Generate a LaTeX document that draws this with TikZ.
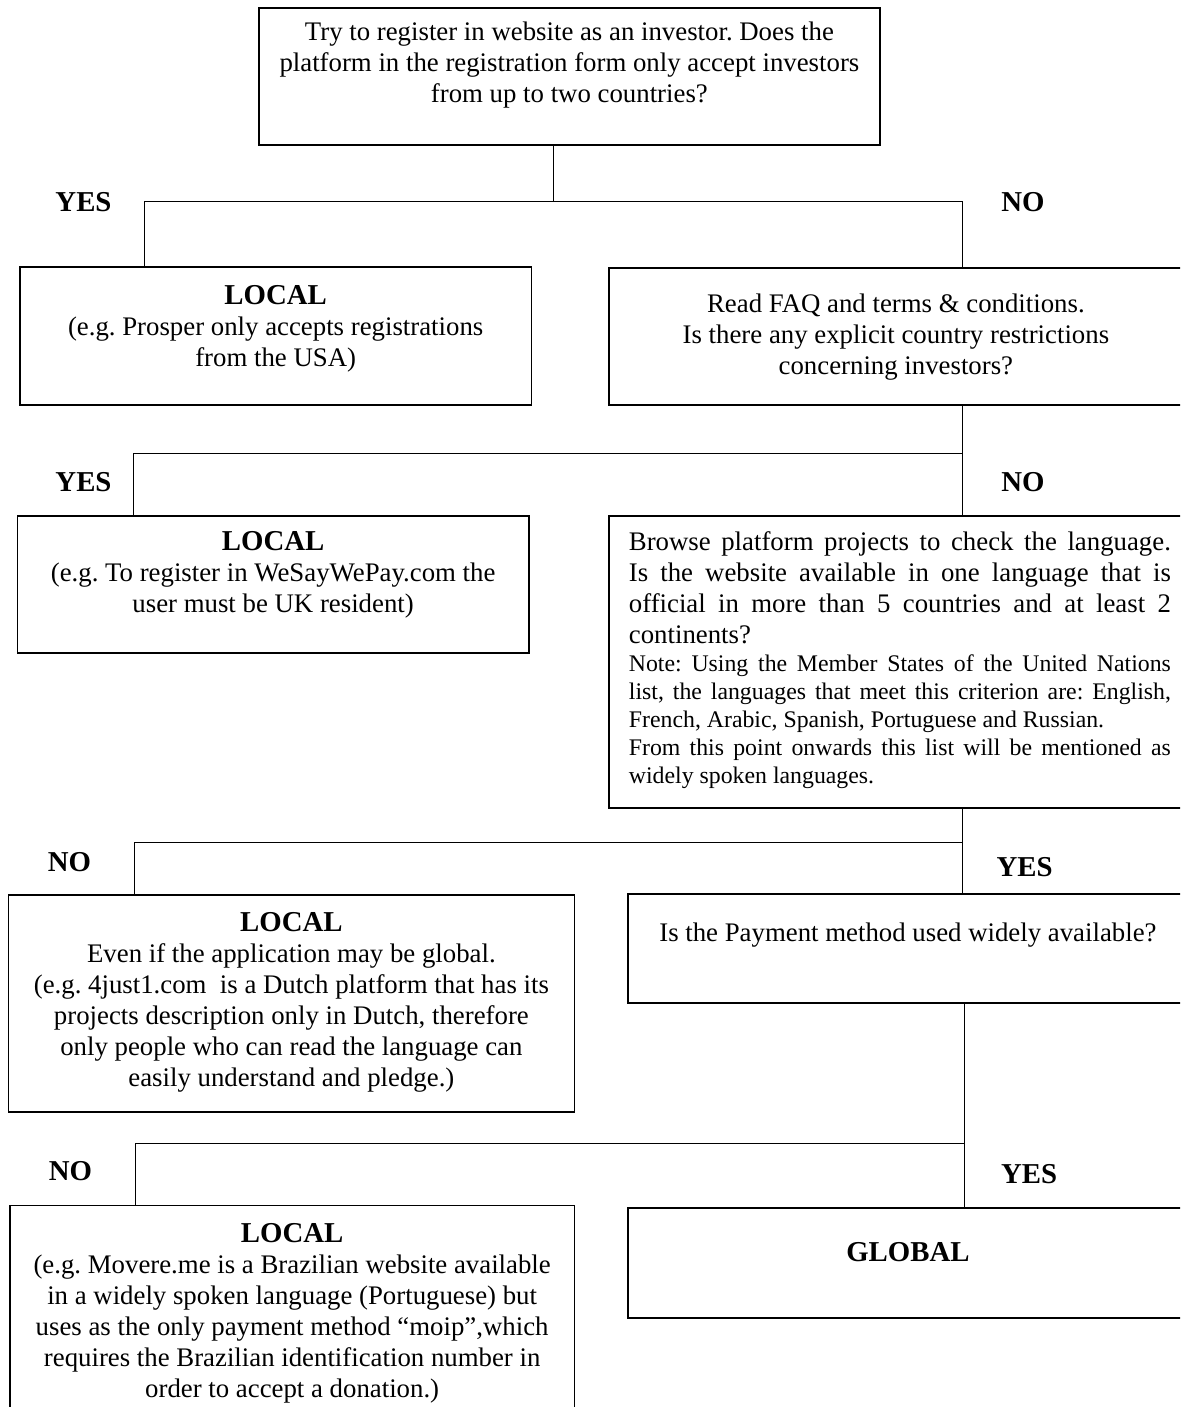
\documentclass[tikz,border=0pt]{standalone}
\usepackage{fontspec}
\setmainfont{Liberation Serif}
\usepackage{tikz}
\setlength{\parindent}{0pt}
\frenchspacing
\newcommand{\bodyfont}{\fontsize{13.4}{15.5}\selectfont}
\newcommand{\notefont}{\fontsize{11.9}{14}\selectfont}
\newcommand{\headfont}{\fontsize{14.4}{16.5}\selectfont\bfseries}
\tikzstyle{card} = [rectangle, draw, line width=0.9pt, anchor=north west, inner sep=0pt]
\tikzstyle{qtext} = [align=center, font=\bodyfont, inner sep=0pt]
\tikzstyle{answer} = [font=\headfont, inner sep=0pt]
\tikzstyle{link} = [line width=0.5pt]

\begin{document}
\begin{tikzpicture}[x=0.5pt, y=-0.5pt]
    \useasboundingbox (0,0) rectangle (1180,1407);
    \clip (0,0) rectangle (1180,1407);

    % Registration question
    \node (top) [card, minimum width=310.5pt, minimum height=68.5pt] at (258,7) {};
    \node (topq) at (top.north) [qtext, yshift=-29pt] {Try to register in website as an investor. Does the\\
        platform in the registration form only accept investors\\
        from up to two countries?};

    % First answers
    \node (local1) [card, minimum width=255.75pt, minimum height=69pt] at (19,266) {};
    \node (local1t) at (local1.north) [qtext, yshift=-31.5pt] {{\headfont LOCAL}\\
        (e.g. Prosper only accepts registrations\\
        from the USA)};
    \node (faq) [card, minimum width=287pt, minimum height=68.5pt] at (608,267) {};
    \node (faqt) at (faq.north) [qtext, yshift=-35pt] {Read FAQ and terms \& conditions.\\
        Is there any explicit country restrictions\\
        concerning investors?};

    % Second answers
    \node (local2) [card, minimum width=255.75pt, minimum height=68.5pt] at (16.5,515) {};
    \node (local2t) at (local2.north) [qtext, yshift=-29.75pt] {{\headfont LOCAL}\\
        (e.g. To register in WeSayWePay.com the\\
        user must be UK resident)};
    \node (browse) [card, minimum width=287pt, minimum height=146pt] at (608,515) {};
    \node (browset) at (browse.north) [font=\bodyfont, text width=271pt, align=justify, inner sep=0pt, xshift=2pt, yshift=-72.5pt] {Browse platform projects to check the language.\linebreak
        Is the website available in one language that is\linebreak
        official in more than 5 countries and at least 2\linebreak
        continents?\par
        \notefont Note: Using the Member States of the United Nations\linebreak
        list, the languages that meet this criterion are: English,\linebreak
        French, Arabic, Spanish, Portuguese and Russian.\par
        From this point onwards this list will be mentioned as\linebreak
        widely spoken languages.\par};

    % Third answers
    \node (local3) [card, minimum width=283pt, minimum height=108.6pt] at (7.5,893.7) {};
    \node (local3t) at (local3.north) [qtext, yshift=-54.4pt] {{\headfont LOCAL}\\
        Even if the application may be global.\\
        (e.g. 4just1.com\ \ is a Dutch platform that has its\\
        projects description only in Dutch, therefore\\
        only people who can read the language can\\
        easily understand and pledge.)};
    \node (pay) [card, minimum width=280pt, minimum height=54.5pt] at (627,893) {};
    \node (payt) at (pay.north) [qtext, yshift=-21.25pt] {Is the Payment method used widely available?};

    % Fourth answers
    \node (local4) [card, minimum width=282.25pt, minimum height=112.5pt] at (9,1204.6) {};
    \node (local4t) at (local4.north) [qtext, yshift=-54.2pt] {{\headfont LOCAL}\\
        (e.g. Movere.me is a Brazilian website available\\
        in a widely spoken language (Portuguese) but\\
        uses as the only payment method “moip”,which\\
        requires the Brazilian identification number in\\
        order to accept a donation.)};
    \node (global) [card, minimum width=280pt, minimum height=54.9pt] at (627,1207) {};
    \node (globalt) at (global.north) [answer, yshift=-22.5pt] {GLOBAL};

    % Branches
    \coordinate (s1) at (553,202);
    \coordinate (s1l) at (144.5,202);
    \coordinate (s1r) at (962,202);
    \draw [link] (top.south -| s1) -- (s1);
    \draw [link] (local1.north -| s1l) -- (s1l) -- (s1r) -- (faq.north -| s1r);

    \coordinate (s2l) at (133,453);
    \coordinate (s2r) at (962,453);
    \draw [link] (faq.south -| s2r) -- (s2r) -- (s2l) -- (local2.north -| s2l);
    \draw [link] (s2r) -- (browse.north -| s2r);

    \coordinate (s3l) at (134,842.6);
    \coordinate (s3r) at (962,842.6);
    \draw [link] (browse.south -| s3r) -- (s3r) -- (s3l) -- (local3.north -| s3l);
    \draw [link] (s3r) -- (pay.north -| s3r);

    \coordinate (s4l) at (135.5,1143.4);
    \coordinate (s4r) at (964,1143.4);
    \draw [link] (pay.south -| s4r) -- (s4r) -- (s4l) -- (local4.north -| s4l);
    \draw [link] (s4r) -- (global.north -| s4r);

    % Labels
    \node (yes1) [answer] at (83.5,202) {YES};
    \node (no1) [answer] at (1023,202) {NO};
    \node (yes2) [answer] at (83.5,482) {YES};
    \node (no2) [answer] at (1023,482) {NO};
    \node (no3) [answer] at (69.5,862) {NO};
    \node (yes3) [answer] at (1024.5,866.6) {YES};
    \node (no4) [answer] at (70.5,1171) {NO};
    \node (yes4) [answer] at (1029,1173.6) {YES};
\end{tikzpicture}
\end{document}
